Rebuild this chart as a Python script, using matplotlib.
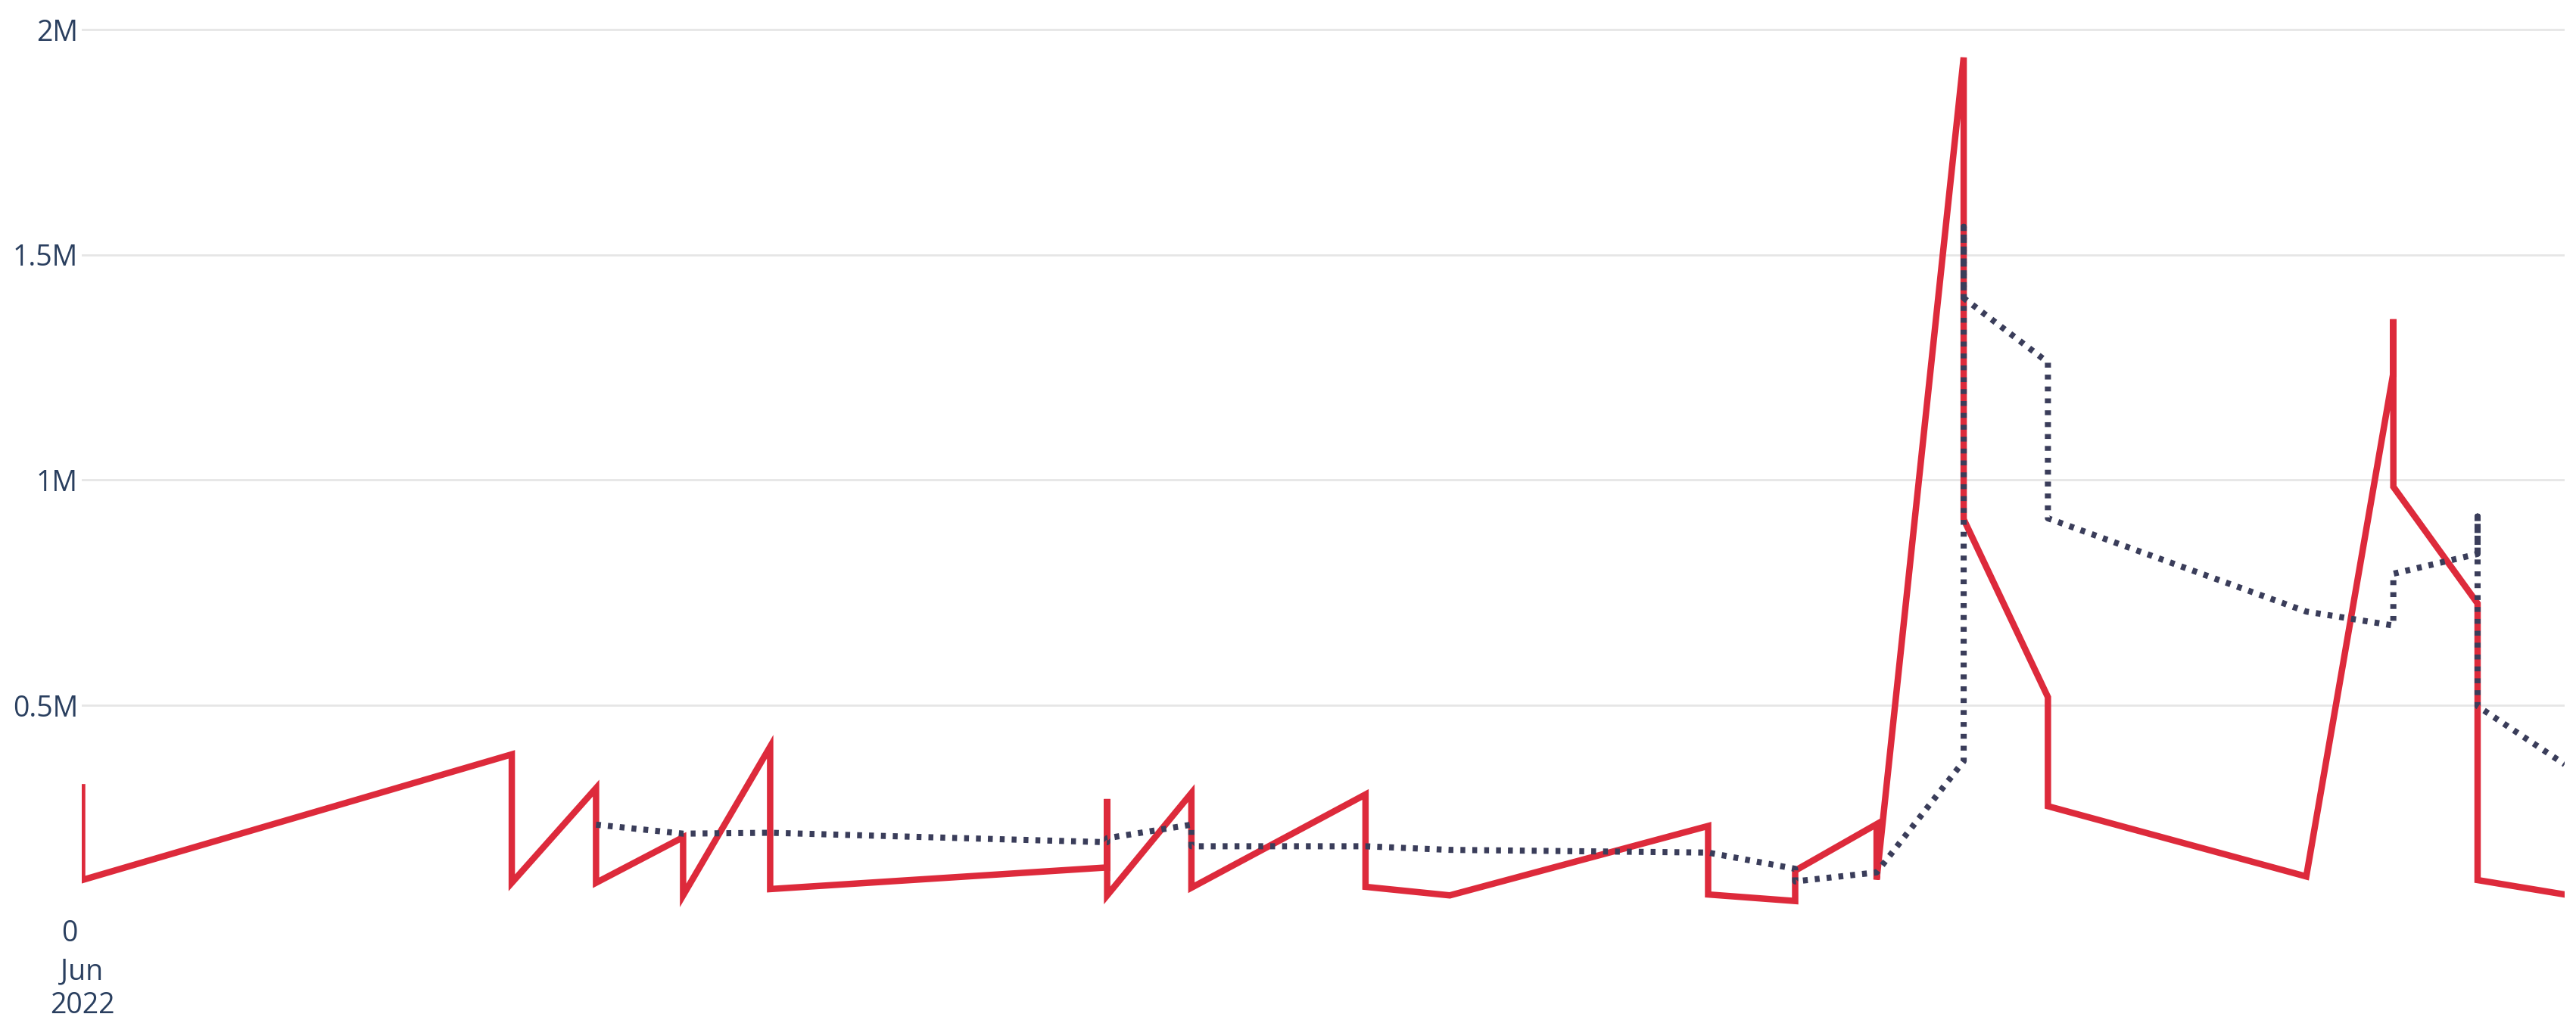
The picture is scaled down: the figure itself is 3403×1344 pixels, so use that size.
import matplotlib
matplotlib.use("Agg")
import matplotlib.pyplot as plt
import pandas as pd

# solid red series (several values share a date -> vertical jumps)
red_dates = ['2022-06-01', '2022-06-01', '2022-11-01', '2022-11-01', '2022-12-01', '2022-12-01',
             '2023-01-01', '2023-01-01', '2023-02-01', '2023-02-01',
             '2023-06-01', '2023-06-01', '2023-06-01', '2023-07-01', '2023-07-01',
             '2023-09-01', '2023-09-01', '2023-10-01', '2024-01-01', '2024-01-01',
             '2024-02-01', '2024-02-01', '2024-03-01', '2024-03-01', '2024-04-01', '2024-04-01',
             '2024-05-01', '2024-05-01', '2024-08-01', '2024-09-01', '2024-09-01', '2024-09-01',
             '2024-10-01', '2024-10-01', '2024-11-01']
red_values = [318000, 112000, 391000, 106000, 316000, 106000,
              207000, 78000, 408000, 92000,
              140000, 292000, 78000, 305000, 95000,
              302000, 97000, 78000, 232000, 80000,
              65500, 133000, 236000, 113000, 1938000, 913000,
              518000, 276000, 120000, 1238000, 1357000, 985000,
              726000, 112000, 80000]

# dotted navy series
dot_dates = ['2022-12-01', '2023-01-01', '2023-02-01', '2023-06-01', '2023-06-01',
             '2023-07-01', '2023-07-01', '2023-09-01', '2023-10-01', '2024-01-01',
             '2024-02-01', '2024-02-01', '2024-03-01', '2024-04-01', '2024-04-01', '2024-04-01',
             '2024-05-01', '2024-05-01', '2024-08-01', '2024-09-01', '2024-09-01',
             '2024-10-01', '2024-10-01', '2024-10-01', '2024-11-01']
dot_values = [235000, 215000, 217000, 196000, 205000,
              235000, 187000, 187000, 179000, 173000,
              137000, 109000, 129000, 376000, 1562000, 1404000,
              1261000, 915000, 708000, 677000, 792000,
              836000, 919000, 498000, 369000]

ytick_vals = [0, 500000, 1000000, 1500000, 2000000]
ytick_labels = ['0', '0.5M', '1M', '1.5M', '2M']

plt.rcParams['font.family'] = ['Open Sans', 'DejaVu Sans']
text_color = '#2A3F5F'

red_x = pd.to_datetime(red_dates)
dot_x = pd.to_datetime(dot_dates)

fig = plt.figure(figsize=(3403 / 200, 1344 / 200), dpi=200)
ax = fig.add_axes([0.03188, 0.08504, 0.96371, 0.89036])

ax.plot(red_x, red_values, color='#DD2A3B', lw=3.05, solid_joinstyle='miter', zorder=3)
ax.plot(dot_x, dot_values, color='#3A3D5A', lw=2.9, dashes=(0.8, 1.15),
        dash_capstyle='butt', zorder=4)

ax.set_xlim(red_x.min(), red_x.max())
ax.set_ylim(0, 2010000)

ax.set_yticks(ytick_vals)
ax.set_yticklabels(ytick_labels)
ax.set_xticks([pd.Timestamp('2022-06-01')])
ax.set_xticklabels(['Jun\n2022'], linespacing=1.2)

ax.tick_params(axis='y', length=0, pad=2, labelsize=13.5, labelcolor=text_color)
ax.tick_params(axis='x', length=0, pad=13, labelsize=13.5, labelcolor=text_color)

for s in ax.spines.values():
    s.set_visible(False)
ax.grid(axis='y', color='#E6E6E6', lw=1)
ax.grid(axis='x', visible=False)
ax.get_ygridlines()[0].set_visible(False)
ax.set_axisbelow(True)

plt.savefig('out.png', dpi=200)
